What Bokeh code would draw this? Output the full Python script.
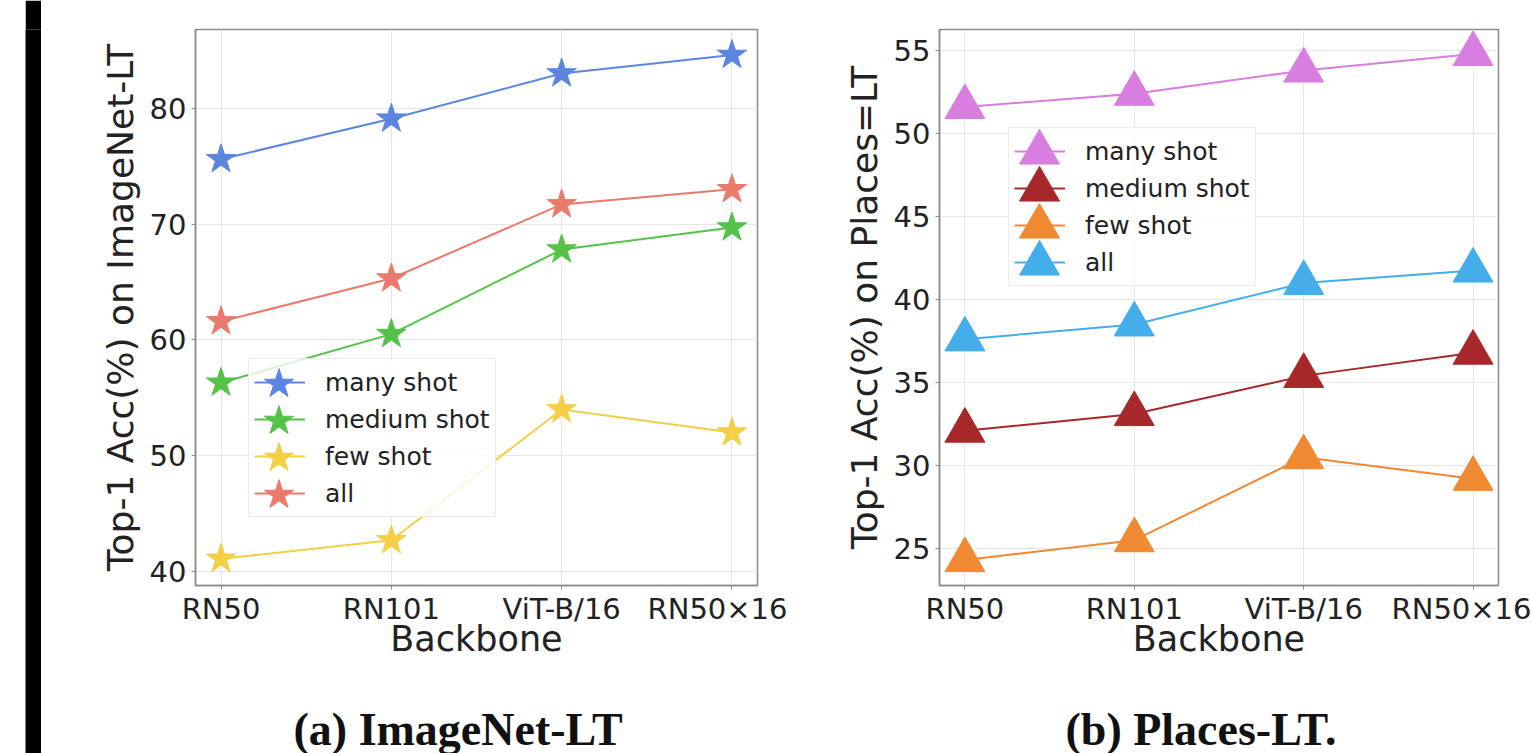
from bokeh.plotting import figure
from bokeh.models import (Range1d, FixedTicker, Legend, LegendItem, Title, Spacer)
from bokeh.core.properties import value
from bokeh.layouts import row
from bokeh.embed import file_html
from bokeh.resources import INLINE

# ---------------- data ----------------
backbones = ["RN50", "RN101", "ViT-B/16", "RN50×16"]
series_names = ["many shot", "medium shot", "few shot", "all"]

imagenet_many = [75.6, 79.1, 83.0, 84.6]
imagenet_medium = [56.3, 60.5, 67.8, 69.7]
imagenet_few = [41.1, 42.7, 54.0, 52.0]
imagenet_all = [61.6, 65.3, 71.7, 73.0]

places_many = [51.6, 52.4, 53.8, 54.8]
places_medium = [32.1, 33.1, 35.4, 36.8]
places_few = [24.3, 25.5, 30.5, 29.2]
places_all = [37.6, 38.5, 41.0, 41.75]

imagenet_ticks = [40, 50, 60, 70, 80]
places_ticks = [25, 30, 35, 40, 45, 50, 55]

imagenet_colors = ["#5a86e0", "#55c24a", "#f3cf45", "#ea7a6b"]
places_colors = ["#d87ee0", "#a7282a", "#f08a32", "#44aeea"]

FONT = "DejaVu Sans"
xs = list(range(len(backbones)))

TOTAL_H = 753
TOP = 29
FRAME_H = 556


def make_panel(series, colors, marker, msize, ylabel, yrange, yticks,
               caption, cap_left, ml, mr, fw, leg_loc, G):
    p = figure(frame_width=fw, frame_height=FRAME_H, output_backend="svg",
               toolbar_location=None,
               x_range=Range1d(-0.15, 3.15), y_range=Range1d(*yrange),
               min_border_left=ml, min_border_right=mr,
               min_border_top=TOP,
               min_border_bottom=TOTAL_H - TOP - FRAME_H)
    p.background_fill_color = "white"
    p.border_fill_color = "white"
    p.outline_line_color = "#8a8a8a"
    p.outline_line_width = 1.5

    for ax in (p.xaxis[0], p.yaxis[0]):
        ax.axis_line_color = "#8a8a8a"
        ax.axis_line_width = 1.5
        ax.major_tick_out = 4
        ax.major_tick_in = 0
        ax.minor_tick_line_color = None
        ax.major_tick_line_color = "#8a8a8a"
        ax.major_label_text_font = FONT
        ax.major_label_text_font_size = "29px"
        ax.major_label_text_color = "#222222"
        ax.axis_label_text_font = FONT
        ax.axis_label_text_font_style = "normal"
        ax.axis_label_text_color = "#222222"

    p.xaxis.ticker = FixedTicker(ticks=xs)
    p.xaxis.major_label_overrides = {i: b for i, b in zip(xs, backbones)}
    p.xaxis.major_label_standoff = 2
    p.xaxis.axis_label = "Backbone"
    p.xaxis.axis_label_text_font_size = "35px"
    p.xaxis.axis_label_standoff = -10
    p.yaxis.ticker = FixedTicker(ticks=yticks)
    p.yaxis.major_label_standoff = 5
    p.yaxis.axis_label = ylabel
    p.yaxis.axis_label_text_font_size = "36px"
    p.yaxis.axis_label_standoff = 6

    p.grid.grid_line_color = "#e6e6e6"
    p.grid.grid_line_width = 1

    line_items, marker_items = [], []
    for name, vals, col in zip(series_names, series, colors):
        lr = p.line(xs, vals, line_color=col, line_width=2)
        sr = p.scatter(xs, vals, marker=marker, size=msize,
                       fill_color=col, line_color=col)
        line_items.append(LegendItem(label=name, renderers=[lr]))
        marker_items.append(LegendItem(label=value(""), renderers=[sr]))

    lx, ly = leg_loc
    legA = Legend(items=line_items, location=(lx, ly),
                  glyph_width=51, glyph_height=36, spacing=1, padding=5,
                  label_standoff=20, label_text_font=FONT,
                  label_text_font_size="25px", label_text_color="#222222",
                  border_line_color="#d9d9d9", border_line_width=1,
                  background_fill_color="white", background_fill_alpha=0.8)
    p.add_layout(legA, "center")
    # marker part of each legend entry, drawn centred on the legend line
    for k, item in enumerate(marker_items):
        legB = Legend(items=[item],
                      location=(lx + 30.5 - G / 2, ly + 134 - 37 * k - G / 2),
                      glyph_width=G, glyph_height=G, spacing=0, padding=0,
                      label_standoff=0, label_width=0, label_height=0,
                      border_line_color=None, background_fill_alpha=0)
        p.add_layout(legB, "center")

    cap = Title(text=caption, align="left", offset=cap_left,
                text_font="Liberation Serif", text_font_style="bold",
                text_font_size="46px", text_color="#111111", standoff=80)
    p.add_layout(cap, "below")
    return p


left = make_panel([imagenet_many, imagenet_medium, imagenet_few, imagenet_all],
                  imagenet_colors, "star", 31, "Top-1 Acc(%) on ImageNet-LT",
                  (38.8, 86.8), imagenet_ticks, "(a) ImageNet-LT", 98,
                  154, 30, 562, (53, 68), 77)

right = make_panel([places_many, places_medium, places_few, places_all],
                   places_colors, "triangle", 40, "Top-1 Acc(%) on Places=LT",
                   (22.77, 56.27), places_ticks, "(b) Places-LT.", 126,
                   152, 33, 559, (69, 299), 100)

lead = Spacer(width=25, height=TOTAL_H)
bar = figure(frame_width=16, frame_height=TOTAL_H, output_backend="svg",
             toolbar_location=None, x_axis_location=None, y_axis_location=None,
             min_border_left=0, min_border_right=0, min_border_top=0,
             min_border_bottom=0, x_range=Range1d(0, 1), y_range=Range1d(0, 1))
bar.background_fill_color = "black"
bar.border_fill_color = "black"
bar.outline_line_color = None
bar.grid.visible = False

layout = row(lead, bar, left, right)
layout.spacing = 0

open("out.html", "w").write(file_html(layout, INLINE))
